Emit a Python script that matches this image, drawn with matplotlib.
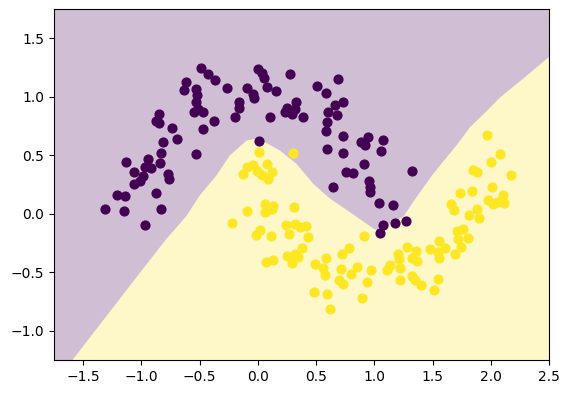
import numpy as np
import matplotlib
matplotlib.use("Agg")
import matplotlib.pyplot as plt

# class 0 (upper moon) points
x0 = [-0.492, -0.427, -0.369, -0.613, -0.633, -0.533, -0.521, -0.264, -0.097, -0.527,
      -0.550, -0.470, -0.513, -0.161, -0.161, -0.192, -0.375, -0.470, -0.851, -0.870,
      -0.848, -0.741, -0.698, -0.814, -0.833, -0.533, -0.842, -1.128, -0.942, -0.971,
      -0.919, -1.063, -0.771, -0.762, -0.985, -1.014, -1.063, -1.209, -1.143, -0.876,
      -1.308, -1.151, -0.833, -0.965,
      0.003, 0.032, 0.052, 0.275, 0.690, 0.504, 0.584, 0.075, 0.152, -0.040,
      -0.034, 0.332, 0.247, 0.318, 0.232, 0.290, 0.384, 0.103, 0.662, 0.728,
      0.604, 0.676, 0.595, 0.584, 0.728, 0.948, 0.882, 0.919, 1.076, 1.054,
      0.595, 0.728, 0.911, 0.756, 0.814, 0.647, 0.956, 0.962, 0.962, 0.011,
      1.042, 1.162, 1.076, 1.048, 1.177, 1.271, 1.320]
y0 = [1.249, 1.192, 1.144, 1.127, 1.056, 1.065, 1.014, 1.078, 1.078, 0.951,
      0.871, 0.866, 0.894, 0.951, 0.908, 0.829, 0.795, 0.724, 0.852, 0.789,
      0.772, 0.735, 0.642, 0.616, 0.517, 0.511, 0.435, 0.446, 0.469, 0.403,
      0.389, 0.355, 0.341, 0.299, 0.321, 0.284, 0.256, 0.157, 0.152, 0.180,
      0.043, 0.020, 0.037, -0.096,
      1.235, 1.201, 1.163, 1.192, 1.150, 1.093, 1.036, 1.087, 1.050, 1.022,
      0.993, 0.957, 0.908, 0.894, 0.871, 0.852, 0.823, 0.823, 0.929, 0.951,
      0.871, 0.843, 0.780, 0.710, 0.667, 0.659, 0.616, 0.588, 0.631, 0.540,
      0.554, 0.520, 0.426, 0.361, 0.346, 0.227, 0.276, 0.227, 0.185, 0.619,
      0.094, 0.071, -0.099, -0.161, -0.076, -0.065, 0.363]

# class 1 (lower moon) points
x1 = [0.011, 0.303, 0.083, -0.097, -0.040, -0.126, -0.011, 0.032, 0.088, 0.126,
      -0.092, 0.060, 0.131, 0.060, 0.118, 0.312, 0.238, 0.318, 0.361, 0.412,
      0.017, -0.017, 0.112, 0.266, 0.427, 0.911, 0.375, 0.252, 0.318, 0.346,
      0.290, 0.069, 0.131, 0.584, 0.719, 0.782, 0.490, 0.556, 0.576, 0.713,
      0.848, 0.796, 0.968, 0.698, 0.733, 0.934, 0.481, 0.590, 0.891, 0.619,
      -0.226,
      1.735, 1.836, 2.008, 2.107, 1.978, 2.051, 2.113, 2.021, 1.658, 1.684,
      1.879, 1.813, 1.901, 1.707, 1.759, 1.802, 1.721, 1.741, 1.692, 1.558,
      1.607, 1.478, 1.544, 1.558, 1.278, 1.357, 1.205, 1.214, 1.320, 1.369,
      1.134, 1.220, 1.320, 1.349, 1.400, 1.220, 1.544, 1.512, 1.106,
      1.965, 2.079, 1.999, 1.850, 1.884, 2.171]
y1 = [0.525, 0.517, 0.426, 0.397, 0.418, 0.341, 0.369, 0.327, 0.299, 0.355,
      0.026, 0.086, 0.066, 0.014, 0.043, 0.054, -0.093, -0.084, -0.113, -0.107,
      -0.135, -0.178, -0.190, -0.173, -0.198, -0.190, -0.297, -0.360, -0.340, -0.369,
      -0.420, -0.416, -0.399, -0.374, -0.340, -0.292, -0.433, -0.467, -0.524, -0.473,
      -0.454, -0.516, -0.482, -0.567, -0.603, -0.581, -0.666, -0.689, -0.723, -0.816,
      -0.079,
      0.180, 0.191, 0.227, 0.163, 0.114, 0.100, 0.094, 0.086, 0.080, 0.029,
      0.037, -0.014, -0.033, -0.147, -0.127, -0.203, -0.220, -0.283, -0.340, -0.229,
      -0.289, -0.303, -0.331, -0.374, -0.280, -0.317, -0.340, -0.388, -0.374, -0.405,
      -0.439, -0.467, -0.530, -0.567, -0.609, -0.567, -0.558, -0.654, -0.484,
      0.676, 0.511, 0.440, 0.375, 0.355, 0.327]

# decision boundary (class 0 above, class 1 below)
bx = [-1.75, -1.589, -1.343, -1.157, -1.014, -0.784, -0.613, -0.498, -0.355, -0.241,
      -0.097, -0.026, 0.046, 0.189, 0.332, 0.475, 0.619, 0.790, 0.991, 1.048,
      1.134, 1.248, 1.363, 1.506, 1.707, 1.821, 1.993, 2.079, 2.279, 2.5]
by = [-1.46, -1.248, -0.931, -0.692, -0.507, -0.215, -0.02, 0.157, 0.327, 0.497,
      0.625, 0.639, 0.619, 0.540, 0.426, 0.256, 0.129, 0.014, -0.127, -0.156,
      -0.084, -0.028, 0.142, 0.341, 0.585, 0.738, 0.905, 0.993, 1.155, 1.339]

xlim = (-1.75, 2.5)
ylim = (-1.25, 1.75)

cmap = plt.get_cmap("viridis")
c0 = cmap(0.0)
c1 = cmap(1.0)

fig = plt.figure(figsize=(5.7, 3.93), dpi=100)
ax = fig.add_axes([54 / 570, 1 - 360 / 393, 495 / 570, 351 / 393])

ax.fill_between(bx, by, 3, color=c0, alpha=0.25, linewidth=0, zorder=0)
ax.fill_between(bx, -3, by, color=c1, alpha=0.25, linewidth=0, zorder=0)

ax.scatter(x0, y0, s=40, color=c0, zorder=2)
ax.scatter(x1, y1, s=40, color=c1, zorder=2)

ax.set_xlim(*xlim)
ax.set_ylim(*ylim)
ax.set_xticks([-1.5, -1.0, -0.5, 0.0, 0.5, 1.0, 1.5, 2.0, 2.5])
ax.set_yticks([-1.0, -0.5, 0.0, 0.5, 1.0, 1.5])

fig.savefig("out.png", dpi=100)
